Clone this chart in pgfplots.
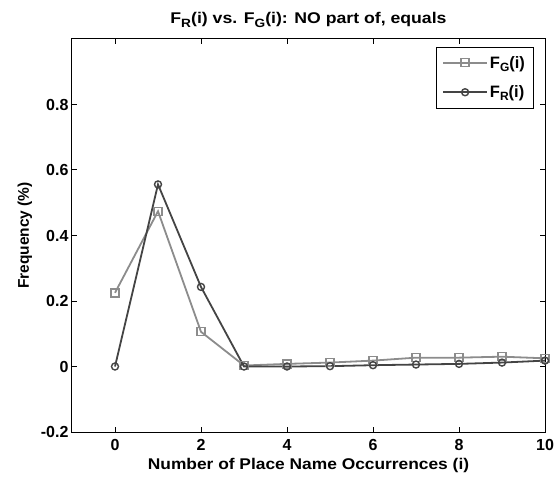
\documentclass[border=0pt]{standalone}
\usepackage{fontspec}
\setmainfont{Liberation Sans}
\usepackage{pgfplots}
\pgfplotsset{compat=1.18}
\definecolor{Cg}{RGB}{140,140,140}
\definecolor{Cr}{RGB}{68,68,68}
\newcommand{\sub}[1]{\raisebox{-3.5pt}{\fontsize{12}{12}\selectfont #1}}
\begin{document}
\begin{tikzpicture}[x=1pt,y=1pt]
\begin{axis}[
  name=ax,
  scale only axis,
  width=473pt, height=393pt,
  xmin=-1, xmax=10, ymin=-0.2, ymax=1,
  xtick={0,2,...,10},
  ytick={-0.2,0,0.2,0.4,0.6,0.8},
  yticklabels={-0.2,0,0.2,0.4,0.6,0.8},
  tick align=inside,
  major tick length=5pt,
  axis line style={line width=1pt},
  tick style={line width=1pt,black},
  ticklabel style={font=\fontsize{16}{18}\selectfont\bfseries},
  xticklabel style={yshift=-4pt},
  /pgf/number format/assume math mode=true,
  xlabel={Number of Place Name Occurrences (i)},
  ylabel={Frequency (\%)},
  label style={font=\fontsize{15.5}{18}\selectfont\bfseries},
  xlabel style={yshift=-1pt, xscale=1.12},
  ylabel style={yshift=2pt},
  title={F\sub{R}(i) vs. F\sub{G}(i): NO part of, equals},
  title style={font=\fontsize{15.5}{18}\selectfont\bfseries, yshift=2pt, xscale=1.14},
  legend style={at={(rel axis cs:0.975,0.98)}, anchor=north east,
    draw=black, font=\fontsize{16.5}{18}\selectfont\bfseries,
    row sep=12pt, inner xsep=6pt, inner ysep=7pt},
  legend cell align=left,
  legend image code/.code={%
    \draw[mark repeat=2,mark phase=2,line width=1.8pt]
      plot coordinates {(0pt,0pt) (22pt,0pt) (44pt,0pt)};},
]
\addplot[Cg, line width=1.8pt, mark=square, mark size=4pt,
  mark options={line width=1.4pt}] coordinates {
  (0,0.225) (1,0.474) (2,0.106) (3,0.003) (4,0.008) (5,0.012)
  (6,0.018) (7,0.027) (8,0.027) (9,0.030) (10,0.025)
};
\addlegendentry{F\sub{G}(i)}
\addplot[Cr, line width=1.8pt, mark=o, mark size=3.5pt,
  mark options={line width=1.4pt}] coordinates {
  (0,0) (1,0.556) (2,0.243) (3,0) (4,0) (5,0.001)
  (6,0.004) (7,0.006) (8,0.008) (9,0.012) (10,0.018)
};
\addlegendentry{F\sub{R}(i)}
\end{axis}
\useasboundingbox ([shift={(-72pt,-52pt)}]ax.south west) rectangle ([shift={(13pt,39pt)}]ax.north east);
\end{tikzpicture}
\end{document}
